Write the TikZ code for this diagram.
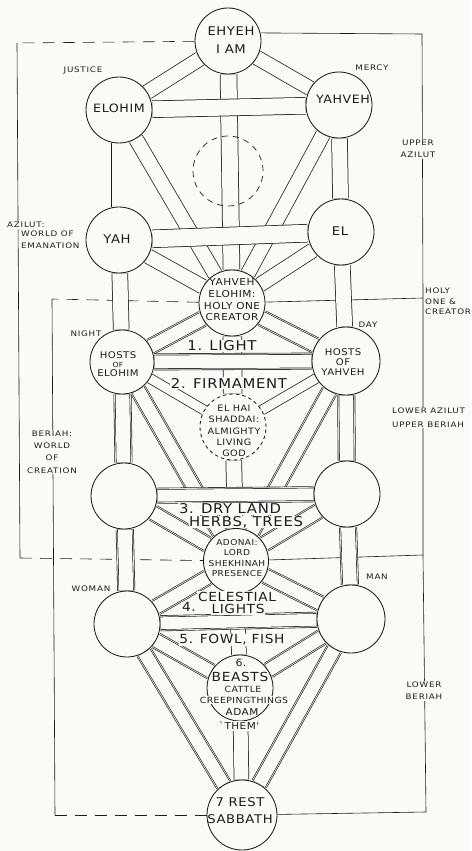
\documentclass[tikz,border=0pt]{standalone}
\usepackage{fontspec}
\newfontfamily\hand[FakeStretch=1.1,LetterSpace=5]{DejaVu Sans}
\newfontfamily\handw[FakeStretch=1.15,LetterSpace=10]{DejaVu Sans}
\newcommand\fs[2]{\fontsize{#1}{#2}\selectfont}
\definecolor{paper}{RGB}{250,250,247}
\definecolor{ink}{RGB}{30,28,26}
\pgfdeclarelayer{bg}
\pgfdeclarelayer{frame}
\pgfdeclarelayer{paths}
\pgfsetlayers{bg,frame,paths,main}
\tikzset{
  sef/.style={circle, draw=ink, fill=paper, line width=0.85pt, minimum size=#1, inner sep=0pt},
  sef/.default=66pt,
  ch/.style={draw=ink, line width=0.75pt, double=paper, double distance=#1},
  ch/.default=14pt,
  dch/.style={draw=ink, line width=#1,
     postaction={draw=paper, line width=#1-1.3pt},
     postaction={draw=ink, line width=#1-2.8pt},
     postaction={draw=paper, line width=#1-4.1pt}},
  dch/.default=17pt,
  frm/.style={draw=ink, line width=0.6pt},
  frmd/.style={frm, dash pattern=on 12pt off 8pt},
  tx/.style={text=ink, inner sep=0.5pt, align=center},
  lab/.style={text=ink, inner sep=1pt, align=center, font=\handw\fs{7.6}{11}},
  labf/.style={lab, fill=paper},
  big/.style={text=ink, inner sep=0.8pt, fill=paper, font=\hand\fs{13.5}{14}}
}
\begin{document}
\begin{tikzpicture}[x=1pt,y=-1pt]
\begin{pgfonlayer}{bg}
  \fill[paper] (0,0) rectangle (471,851);
\end{pgfonlayer}
\useasboundingbox (0,0) rectangle (471,851);

% ---------- sefirot ----------
\node[sef] (ke) at (228,41) {};
\node[sef] (el) at (119,110) {};
\node[sef] (yv) at (339,105) {};
\node[circle, draw=ink, line width=0.7pt, dash pattern=on 6pt off 5pt, minimum size=70pt, inner sep=0pt] (da) at (228,171) {};
\node[sef] (yh) at (119,240) {};
\node[sef] (ec) at (341,232) {};
\node[sef] (ty) at (232,303) {};
\node[sef=64pt] (he) at (122,362) {};
\node[sef=68pt] (hy) at (346,361) {};
\node[sef, dash pattern=on 3.5pt off 3pt] (eh) at (233,427) {};
\node[sef] (lg) at (124,496) {};
\node[sef] (rh) at (347,494) {};
\node[sef=65pt] (ad) at (236,561) {};
\node[sef] (wo) at (127,624) {};
\node[sef=68pt] (ma) at (351,619) {};
\node[sef] (be) at (240,688) {};
\node[sef=70pt] (sa) at (242,815) {};

% ---------- frame coordinates ----------
\coordinate (a1) at (17,43);
\coordinate (a2) at (20,558);
\coordinate (b1) at (52,299);
\coordinate (b2) at (55,815);
\coordinate (r0) at (422,34);
\coordinate (r1) at (423,298);
\coordinate (r2) at (423,555);
\coordinate (r3) at (426,812);

\begin{pgfonlayer}{frame}
  \draw[frmd] (ke) -- (a1);
  \draw[frm] (a1) -- (a2);
  \draw[frmd] (a2) -- (ad);
  \draw[frm] (ke.14) -- (r0) -- (r1) -- (r2) -- (r3) -- (sa);
  \draw[frm] (ty) -- (r1);
  \draw[frm] (ad) -- (r2);
  \draw[frmd] (ty) -- (b1);
  \draw[frm] (b1) -- (b2);
  \draw[frmd] (b2) -- (sa);
\end{pgfonlayer}

% ---------- paths ----------
\begin{pgfonlayer}{paths}
  % Azilut (single)
  \draw[ch] (ke) -- (el);
  \draw[ch] (ke) -- (yv);
  \draw[ch=16pt] (ke) -- (ty);
  \draw[ch=15pt] (el) -- (yh);
  \draw[ch=15pt] (yv) -- (ec);
  \draw[ch] (el) -- (ty);
  \draw[ch] (yv) -- (ty);
  \draw[ch] (yh) -- (ty);
  \draw[ch] (ec) -- (ty);
  \draw[ch=15pt] (yh) -- (he);
  \draw[ch=15pt] (ec) -- (hy);
  \draw[ch=18pt] (ty) -- (eh);
  \draw[ch=9pt] (he) -- (eh);
  \draw[ch=9pt] (hy) -- (eh);
  \draw[ch=15pt] (eh) -- (ad);
  \draw[ch=14pt] (ad) -- (be);
  \draw[ch=14pt] (be) -- (sa);
  % Beriah (double bordered)
  \draw[dch] (ty) -- (he);
  \draw[dch] (ty) -- (hy);
  \draw[dch=18pt] (he) -- (lg);
  \draw[dch=18pt] (hy) -- (rh);
  \draw[dch] (he) -- (ad);
  \draw[dch] (hy) -- (ad);
  \draw[dch] (lg) -- (ad);
  \draw[dch] (rh) -- (ad);
  \draw[dch=18pt] (lg) -- (wo);
  \draw[dch=18pt] (rh) -- (ma);
  \draw[dch] (ad) -- (wo);
  \draw[dch] (ad) -- (ma);
  \draw[dch] (wo) -- (be);
  \draw[dch] (ma) -- (be);
  \draw[dch] (wo) -- (sa);
  \draw[dch] (ma) -- (sa);
  % horizontals on top
  \draw[ch=16pt] (el) -- (yv);
  \draw[ch=17pt] (yh) -- (ec);
  \draw[dch] (he) -- (hy);
  \draw[dch=16pt] (lg) -- (rh);
  \draw[dch=16pt] (wo) -- (ma);
\end{pgfonlayer}

% ---------- texts in circles ----------
\node[tx, font=\hand\fs{12}{18}] (ket) at (231,40) {EHYEH\\I AM};
\node[tx, font=\hand\fs{11.5}{12}] (elt) at (119,108) {ELOHIM};
\node[tx, font=\hand\fs{11.5}{12}] (yvt) at (343,99) {YAHVEH};
\node[tx, font=\hand\fs{12}{12}] (yht) at (117,239) {YAH};
\node[tx, font=\hand\fs{12}{12}] (ect) at (340,231) {EL};
\node[tx, font=\hand\fs{9.6}{11.7}] (tyt) at (232,300) {YAHVEH\\ELOHIM:\\HOLY ONE\\CREATOR};
\node[tx, font=\hand\fs{9.2}{9.3}] (het) at (118,364) {HOSTS\\{\fs{7}{8}OF}\\ELOHIM};
\node[tx, font=\hand\fs{9.2}{10.2}] (hyt) at (343,362) {HOSTS\\OF\\YAHVEH};
\node[tx, font=\hand\fs{8.8}{11.2}] (eht) at (234,431) {EL HAI\\SHADDAI:\\ALMIGHTY\\LIVING\\GOD};
\node[tx, font=\hand\fs{8.2}{10.2}] (adt) at (237,558) {ADONAI:\\LORD\\SHEKHINAH\\PRESENCE};
\node[tx, font=\hand\fs{10}{11}] (be1) at (241,663) {6.};
\node[tx, font=\hand\fs{12.5}{13}] (be2) at (240,677) {BEASTS};
\node[tx, font=\hand\fs{8.5}{10}] (be3) at (243,689) {CATTLE};
\node[tx, fill=paper, inner sep=1pt, font=\hand\fs{8.5}{10}] (be4) at (244,700) {CREEPINGTHINGS};
\node[tx, font=\hand\fs{9.5}{10}] (be5) at (242,712) {ADAM};
\node[tx, fill=paper, inner sep=1.5pt, font=\hand\fs{9.5}{10}] (be6) at (239,726) {`THEM'};
\node[tx, font=\hand\fs{12}{17}] (sat) at (240,811) {7 REST\\SABBATH};

% ---------- numbered days ----------
\node[big] (d1) at (222,346) {1. LIGHT};
\node[big] (d2) at (229,383) {2. FIRMAMENT};
\node[big] (d3a) at (230,509) {3. DRY LAND};
\node[big, inner sep=0pt] (d3b) at (246,522) {HERBS, TREES};
\node[big, font=\hand\fs{12.5}{13}] (d4a) at (237,597) {CELESTIAL};
\node[big, font=\hand\fs{12.5}{13}] (d4n) at (189,607) {4.};
\node[big, font=\hand\fs{12.5}{13}] (d4b) at (238,609) {LIGHTS};
\node[big, font=\hand\fs{12.5}{13}] (d5) at (232,640) {5. FOWL, FISH};

% ---------- side labels ----------
\node[lab] (justice) at (83,70) {JUSTICE};
\node[lab] (mercy) at (372,68) {MERCY};
\node[labf, font=\handw\fs{7.6}{12.5}] (uaz) at (418,149) {UPPER\\AZILUT};
\node[labf, anchor=west] (azl) at (6,225) {AZILUT:};
\node[lab, anchor=north west, align=left, font=\handw\fs{7.6}{12}] (azw) at (20,230) {WORLD OF\\EMANATION};
\node[lab, anchor=north west, align=left, font=\handw\fs{7.6}{10.2}] (holy) at (424,287) {HOLY\\ONE \&\\CREATOR};
\node[lab] (night) at (86,334) {NIGHT};
\node[lab] (day) at (368,325) {DAY};
\node[labf, anchor=north west, align=left, font=\handw\fs{7.6}{13.5}] (lab1) at (391,407) {LOWER AZILUT\\UPPER BERIAH};
\node[labf, font=\handw\fs{7.6}{12.4}] (ber) at (52,452) {BERIAH:\\WORLD\\OF\\CREATION};
\node[lab] (woman) at (91,589) {WOMAN};
\node[lab] (man) at (377,577) {MAN};
\node[labf, font=\handw\fs{7.6}{12}] (lber) at (424,691) {LOWER\\BERIAH};
\end{tikzpicture}
\end{document}
